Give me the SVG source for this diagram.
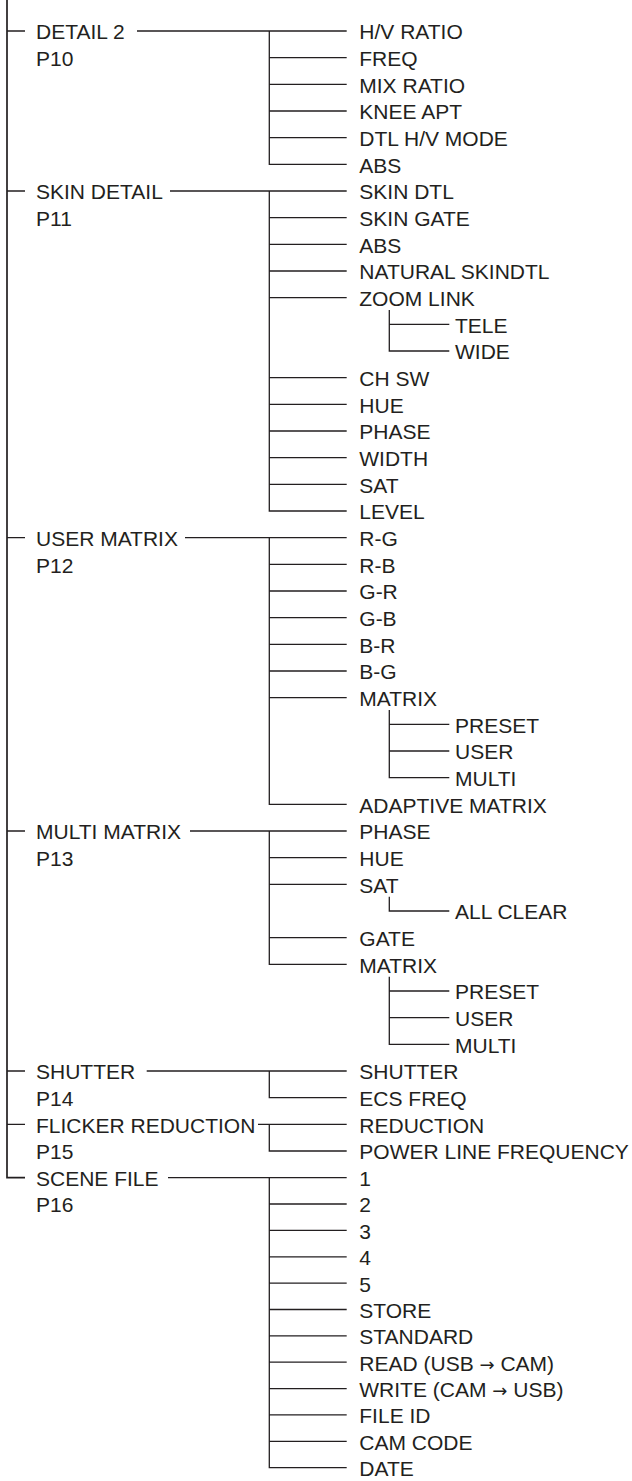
<svg xmlns="http://www.w3.org/2000/svg" width="632" height="1481" viewBox="0 0 632 1481">
<style>
  text { font-family: "Liberation Sans", Arial, Helvetica, sans-serif; font-size: 21px; fill: #231f20; }
  .ar { font-family: "DejaVu Sans", sans-serif; font-size: 18px; }
  .c { fill: none; stroke: #231f20; stroke-width: 1.3; }
  .main { fill: none; stroke: #231f20; stroke-width: 1.7; }
</style>
<rect width="632" height="1481" fill="#ffffff"/>
<g id="connectors">
  <path class="main" d="M7,0 V1177.7 H25"/>
  <path class="c" d="M7,31 H25 M7,191 H25 M7,537.7 H25 M7,831 H25 M7,1071 H25 M7,1124.3 H25"/>
  <!-- DETAIL 2 -->
  <path class="c" d="M137,31 H346.7 M269.3,31 V164.3 H346.7 M269.3,57.7 H346.7 M269.3,84.3 H346.7 M269.3,111 H346.7 M269.3,137.7 H346.7"/>
  <!-- SKIN DETAIL -->
  <path class="c" d="M170,191 H346.7 M269.3,191 V511 H346.7 M269.3,217.7 H346.7 M269.3,244.3 H346.7 M269.3,271 H346.7 M269.3,297.7 H346.7 M269.3,377.7 H346.7 M269.3,404.3 H346.7 M269.3,431 H346.7 M269.3,457.7 H346.7 M269.3,484.3 H346.7"/>
  <path class="c" d="M389.3,310 V351 H449.3 M389.3,324.3 H449.3"/>
  <!-- USER MATRIX -->
  <path class="c" d="M185,537.7 H346.7 M269.3,537.7 V804.3 H346.7 M269.3,564.3 H346.7 M269.3,591 H346.7 M269.3,617.7 H346.7 M269.3,644.3 H346.7 M269.3,671 H346.7 M269.3,697.7 H346.7"/>
  <path class="c" d="M389.3,710 V777.7 H449.3 M389.3,724.3 H449.3 M389.3,751 H449.3"/>
  <!-- MULTI MATRIX -->
  <path class="c" d="M190,831 H346.7 M269.3,831 V964.3 H346.7 M269.3,857.7 H346.7 M269.3,884.3 H346.7 M269.3,937.7 H346.7"/>
  <path class="c" d="M389.3,896.7 V911 H449.3"/>
  <path class="c" d="M389.3,976.7 V1044.3 H449.3 M389.3,991 H449.3 M389.3,1017.7 H449.3"/>
  <!-- SHUTTER -->
  <path class="c" d="M146.7,1071 H346.7 M269.3,1071 V1097.7 H346.7"/>
  <!-- FLICKER REDUCTION -->
  <path class="c" d="M258,1124.3 H346.7 M269.3,1124.3 V1151 H346.7"/>
  <!-- SCENE FILE -->
  <path class="c" d="M168,1177.7 H346.7 M269.3,1177.7 V1467.6 H346.7 M269.3,1204 H346.7 M269.3,1230.4 H346.7 M269.3,1256.8 H346.7 M269.3,1283.1 H346.7 M269.3,1309.5 H346.7 M269.3,1335.8 H346.7 M269.3,1362.2 H346.7 M269.3,1388.6 H346.7 M269.3,1414.9 H346.7 M269.3,1441.3 H346.7"/>
</g>
<g id="n-detail2"><text x="36" y="39.4">DETAIL 2</text><text x="36" y="66.1">P10</text></g>
<g id="n-hv-ratio"><text x="359.3" y="39.4">H/V RATIO</text></g>
<g id="n-freq"><text x="359.3" y="66.1">FREQ</text></g>
<g id="n-mix-ratio"><text x="359.3" y="92.7">MIX RATIO</text></g>
<g id="n-knee-apt"><text x="359.3" y="119.4">KNEE APT</text></g>
<g id="n-dtl-hv-mode"><text x="359.3" y="146.1">DTL H/V MODE</text></g>
<g id="n-abs1"><text x="359.3" y="172.7">ABS</text></g>
<g id="n-skin-detail"><text x="36" y="199.4">SKIN DETAIL</text><text x="36" y="226.1">P11</text></g>
<g id="n-skin-dtl"><text x="359.3" y="199.4">SKIN DTL</text></g>
<g id="n-skin-gate"><text x="359.3" y="226.1">SKIN GATE</text></g>
<g id="n-abs2"><text x="359.3" y="252.7">ABS</text></g>
<g id="n-natural"><text x="359.3" y="279.4">NATURAL SKINDTL</text></g>
<g id="n-zoom-link"><text x="359.3" y="306.1">ZOOM LINK</text></g>
<g id="n-tele"><text x="455" y="332.7">TELE</text></g>
<g id="n-wide"><text x="455" y="359.4">WIDE</text></g>
<g id="n-ch-sw"><text x="359.3" y="386.1">CH SW</text></g>
<g id="n-hue1"><text x="359.3" y="412.7">HUE</text></g>
<g id="n-phase1"><text x="359.3" y="439.4">PHASE</text></g>
<g id="n-width"><text x="359.3" y="466.1">WIDTH</text></g>
<g id="n-sat1"><text x="359.3" y="492.7">SAT</text></g>
<g id="n-level"><text x="359.3" y="519.4">LEVEL</text></g>
<g id="n-user-matrix"><text x="36" y="546.1">USER MATRIX</text><text x="36" y="572.7">P12</text></g>
<g id="n-rg"><text x="359.3" y="546.1">R-G</text></g>
<g id="n-rb"><text x="359.3" y="572.7">R-B</text></g>
<g id="n-gr"><text x="359.3" y="599.4">G-R</text></g>
<g id="n-gb"><text x="359.3" y="626.1">G-B</text></g>
<g id="n-br"><text x="359.3" y="652.7">B-R</text></g>
<g id="n-bg"><text x="359.3" y="679.4">B-G</text></g>
<g id="n-matrix1"><text x="359.3" y="706.1">MATRIX</text></g>
<g id="n-preset1"><text x="455" y="732.7">PRESET</text></g>
<g id="n-user1"><text x="455" y="759.4">USER</text></g>
<g id="n-multi1"><text x="455" y="786.1">MULTI</text></g>
<g id="n-adaptive"><text x="359.3" y="812.7">ADAPTIVE MATRIX</text></g>
<g id="n-multi-matrix"><text x="36" y="839.4">MULTI MATRIX</text><text x="36" y="866.1">P13</text></g>
<g id="n-phase2"><text x="359.3" y="839.4">PHASE</text></g>
<g id="n-hue2"><text x="359.3" y="866.1">HUE</text></g>
<g id="n-sat2"><text x="359.3" y="892.7">SAT</text></g>
<g id="n-all-clear"><text x="455" y="919.4">ALL CLEAR</text></g>
<g id="n-gate"><text x="359.3" y="946.1">GATE</text></g>
<g id="n-matrix2"><text x="359.3" y="972.7">MATRIX</text></g>
<g id="n-preset2"><text x="455" y="999.4">PRESET</text></g>
<g id="n-user2"><text x="455" y="1026.1">USER</text></g>
<g id="n-multi2"><text x="455" y="1052.7">MULTI</text></g>
<g id="n-shutter"><text x="36" y="1079.4">SHUTTER</text><text x="36" y="1106.1">P14</text></g>
<g id="n-shutter-c"><text x="359.3" y="1079.4">SHUTTER</text></g>
<g id="n-ecs-freq"><text x="359.3" y="1106.1">ECS FREQ</text></g>
<g id="n-flicker"><text x="36" y="1132.7">FLICKER REDUCTION</text><text x="36" y="1159.4">P15</text></g>
<g id="n-reduction"><text x="359.3" y="1132.7">REDUCTION</text></g>
<g id="n-power-line"><text x="359.3" y="1159.4">POWER LINE FREQUENCY</text></g>
<g id="n-scene-file"><text x="36" y="1186.1">SCENE FILE</text><text x="36" y="1212.4">P16</text></g>
<g id="n-s1"><text x="359.3" y="1186.1">1</text></g>
<g id="n-s2"><text x="359.3" y="1212.4">2</text></g>
<g id="n-s3"><text x="359.3" y="1238.8">3</text></g>
<g id="n-s4"><text x="359.3" y="1265.2">4</text></g>
<g id="n-s5"><text x="359.3" y="1291.5">5</text></g>
<g id="n-store"><text x="359.3" y="1317.9">STORE</text></g>
<g id="n-standard"><text x="359.3" y="1344.2">STANDARD</text></g>
<g id="n-read"><text x="359.3" y="1370.6">READ (USB <tspan class="ar">→</tspan> CAM)</text></g>
<g id="n-write"><text x="359.3" y="1397">WRITE (CAM <tspan class="ar">→</tspan> USB)</text></g>
<g id="n-file-id"><text x="359.3" y="1423.3">FILE ID</text></g>
<g id="n-cam-code"><text x="359.3" y="1449.7">CAM CODE</text></g>
<g id="n-date"><text x="359.3" y="1476">DATE</text></g>
</svg>
